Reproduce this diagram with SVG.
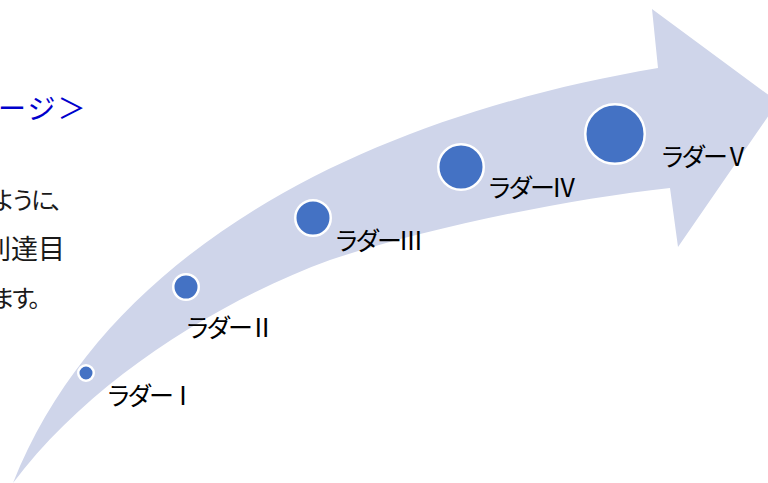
<svg xmlns="http://www.w3.org/2000/svg" width="768" height="483" viewBox="0 0 768 483">
<style>
.body{font-family:"Noto Sans CJK JP","Noto Sans CJK SC",sans-serif;fill:#1a1a1a;}
.lbl{font-family:"Noto Sans CJK JP","Noto Sans CJK SC",sans-serif;font-size:25px;letter-spacing:-3.5px;fill:#000;}
.dot{fill:#4472C4;stroke:#fff;stroke-width:2.5;}
</style>
<rect width="768" height="483" fill="#fff"/>
<g id="heading">
<text x="-2" y="119" font-family="'Noto Sans CJK JP','Noto Sans CJK SC',sans-serif" font-size="28" letter-spacing="2" fill="#0000CC">ージ＞</text>
<text class="body" x="-9" y="209" font-size="24" letter-spacing="-4">ように、</text>
<text class="body" x="-16" y="259" font-size="27">到達目</text>
<text class="body" x="-9" y="307" font-size="24" letter-spacing="-4">ます。</text>
</g>
<g id="connectors">
<path id="arrow" d="M13,483 C110,240 380,115 658,68 L652,9 L778,102 L678,247 L670,188 C560,200 420,230 330,260 C220,300 90,380 13,483 Z" fill="#CFD5EA"/>
</g>
<g id="ladder1"><circle class="dot" cx="86" cy="373" r="7.75"/><text class="lbl" x="106" y="405">ラダーⅠ</text></g>
<g id="ladder2"><circle class="dot" cx="186" cy="287" r="12.75"/><text class="lbl" x="185" y="337">ラダーⅡ</text></g>
<g id="ladder3"><circle class="dot" cx="313" cy="218" r="17.75"/><text class="lbl" x="334" y="250">ラダーⅢ</text></g>
<g id="ladder4"><circle class="dot" cx="461" cy="167" r="22.75"/><text class="lbl" x="487" y="197">ラダーⅣ</text></g>
<g id="ladder5"><circle class="dot" cx="615" cy="134" r="29.75"/><text class="lbl" x="660" y="166">ラダーⅤ</text></g>
</svg>
